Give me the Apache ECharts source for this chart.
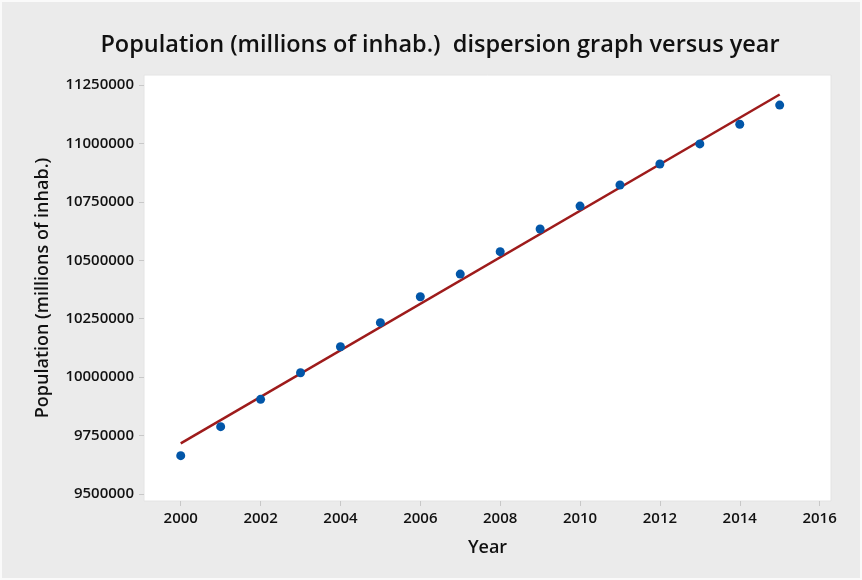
<!DOCTYPE html>
<html>
<head>
<meta charset="utf-8">
<script src="https://cdn.jsdelivr.net/npm/echarts@6/dist/echarts.min.js"></script>
<style>
  html, body { margin: 0; padding: 0; background: #fff; }
  #chart { width: 862px; height: 580px; }
</style>
</head>
<body>
<div id="chart"></div>
<script>
// Yearly population observations
const years = [2000, 2001, 2002, 2003, 2004, 2005, 2006, 2007, 2008, 2009, 2010, 2011, 2012, 2013, 2014, 2015];
const population = [9664000, 9788000, 9905000, 10019000, 10130000, 10233000, 10344000, 10441000,
                    10537000, 10634000, 10732000, 10822000, 10912000, 10998000, 11082000, 11164000];

// Tick positions shown on each axis
const yTicks = [9500000, 9750000, 10000000, 10250000, 10500000, 10750000, 11000000, 11250000];
const xTicks = [2000, 2002, 2004, 2006, 2008, 2010, 2012, 2014, 2016];

// Least-squares fitted line through the observations
function linearFit(xs, ys) {
  const n = xs.length;
  const mx = xs.reduce((a, b) => a + b, 0) / n;
  const my = ys.reduce((a, b) => a + b, 0) / n;
  let sxy = 0, sxx = 0;
  for (let i = 0; i < n; i++) {
    sxy += (xs[i] - mx) * (ys[i] - my);
    sxx += (xs[i] - mx) * (xs[i] - mx);
  }
  const slope = sxy / sxx;
  return x => my + slope * (x - mx);
}
const fit = linearFit(years, population);
const fitLine = [[years[0], fit(years[0])], [years[years.length - 1], fit(years[years.length - 1])]];

const FONT = '"Open Sans", "Noto Sans", sans-serif';
const chart = echarts.init(document.getElementById('chart'), null, { renderer: 'canvas' });

chart.setOption({
  backgroundColor: '#EBEBEB',
  animation: false,
  title: {
    text: 'Population (millions of inhab.)  dispersion graph versus year',
    left: 435,
    textAlign: 'center',
    top: 28,
    textStyle: { fontFamily: FONT, fontSize: 23.5, fontWeight: 600, color: '#111' }
  },
  graphic: [{
    type: 'rect',
    silent: true,
    shape: { x: 0, y: 0, width: 862, height: 580 },
    style: { fill: 'none', stroke: '#fafafa', lineWidth: 4 }
  }],
  grid: {
    left: 144, right: 31, top: 75, bottom: 79,
    show: true, backgroundColor: '#fff', borderColor: '#e4e4e4', borderWidth: 1
  },
  xAxis: {
    type: 'value',
    min: 1999.08,
    max: 2016.285,
    name: 'Year',
    nameLocation: 'middle',
    nameGap: 38,
    nameTextStyle: { fontFamily: FONT, fontSize: 18, fontWeight: 600, color: '#111' },
    axisLine: { show: false },
    splitLine: { show: false },
    axisTick: { show: true, customValues: xTicks, length: 5, lineStyle: { color: '#c8c8c8' } },
    axisLabel: {
      customValues: xTicks,
      margin: 10,
      fontFamily: FONT, fontSize: 15, fontWeight: 600, color: '#111',
      formatter: v => String(v)
    }
  },
  yAxis: {
    type: 'value',
    min: 9470000,
    max: 11292800,
    name: 'Population (millions of inhab.)',
    nameLocation: 'middle',
    nameGap: 92,
    nameTextStyle: { fontFamily: FONT, fontSize: 18, fontWeight: 600, color: '#111' },
    axisLine: { show: false },
    splitLine: { show: false },
    axisTick: { show: true, customValues: yTicks, length: 5, lineStyle: { color: '#c8c8c8' } },
    axisLabel: {
      customValues: yTicks,
      margin: 10,
      fontFamily: FONT, fontSize: 15, fontWeight: 600, color: '#111',
      formatter: v => String(v)
    }
  },
  series: [
    {
      name: 'Fit',
      type: 'line',
      data: fitLine,
      symbol: 'none',
      lineStyle: { color: '#9E1B1B', width: 2.5 },
      z: 2
    },
    {
      name: 'Population',
      type: 'scatter',
      data: years.map((y, i) => [y, population[i]]),
      symbol: 'circle',
      symbolSize: 9,
      itemStyle: { color: '#0256A8', opacity: 1 },
      z: 3
    }
  ]
});
</script>
</body>
</html>
